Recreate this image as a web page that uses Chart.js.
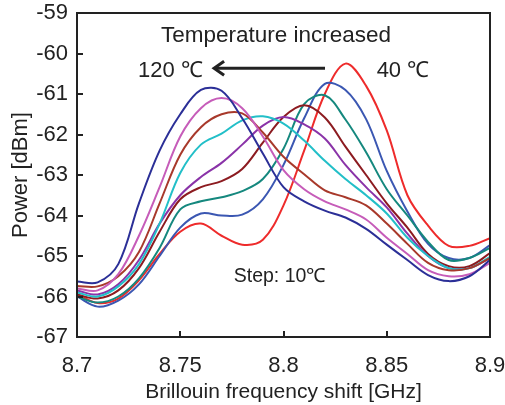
<!DOCTYPE html>
<html>
<head>
<meta charset="utf-8">
<script src="https://cdn.jsdelivr.net/npm/chart.js@4.4.1/dist/chart.umd.min.js"></script>
<style>
html,body{margin:0;padding:0;background:#ffffff;}
canvas{display:block;}
</style>
</head>
<body>
<canvas id="c" width="505" height="405"></canvas>
<script>
// Brillouin frequency shift [GHz]
const freqs = [8.70, 8.71, 8.72, 8.73, 8.74, 8.75, 8.76, 8.77, 8.78, 8.79, 8.80,
               8.81, 8.82, 8.83, 8.84, 8.85, 8.86, 8.87, 8.88, 8.89, 8.90];

// Power [dBm] for each temperature
const p120 = [-65.63, -65.65, -65.2, -63.7, -62.4, -61.5, -60.9, -60.92, -61.6, -62.47, -63.3,
              -63.65, -63.88, -64.05, -64.33, -64.72, -65.1, -65.47, -65.62, -65.5, -65.1];
const p110 = [-65.8, -65.85, -65.45, -64.5, -63.3, -62.05, -61.35, -61.1, -61.35, -62.05, -62.88,
              -63.35, -63.65, -63.85, -64.1, -64.55, -64.95, -65.35, -65.5, -65.45, -65.17];
const p100 = [-65.74, -65.75, -65.5, -64.9, -63.7, -62.5, -61.82, -61.5, -61.48, -61.95, -62.55,
              -62.98, -63.38, -63.55, -63.75, -64.2, -64.7, -65.17, -65.35, -65.3, -65.05];
const p90  = [-65.9, -66.0, -65.75, -65.2, -64.2, -62.95, -62.25, -61.98, -61.65, -61.55, -61.73,
              -62.15, -62.65, -63.1, -63.5, -63.95, -64.55, -65.0, -65.3, -65.3, -65.02];
const p80  = [-65.85, -65.95, -65.7, -65.1, -64.2, -63.5, -63.05, -62.7, -62.25, -61.78, -61.57,
              -61.75, -62.1, -62.75, -63.3, -63.8, -64.45, -65.0, -65.3, -65.3, -65.05];
const p70  = [-65.95, -66.05, -65.85, -65.3, -64.4, -63.6, -63.3, -63.15, -62.85, -62.2, -61.57,
              -61.28, -61.58, -62.3, -63.0, -63.7, -64.3, -64.95, -65.25, -65.25, -64.93];
const p60  = [-66.0, -66.15, -66.0, -65.55, -64.8, -63.85, -63.65, -63.55, -63.4, -63.1, -62.35,
              -61.25, -61.03, -61.63, -62.44, -63.35, -64.0, -64.65, -65.1, -65.05, -64.8];
const p50  = [-66.0, -66.25, -66.1, -65.7, -65.0, -64.3, -63.95, -64.0, -63.98, -63.6, -62.75,
              -61.6, -60.75, -60.9, -61.62, -62.9, -63.9, -64.7, -65.05, -65.05, -64.73];
const p40  = [-65.94, -66.16, -66.05, -65.6, -64.95, -64.4, -64.2, -64.5, -64.72, -64.6, -63.75,
              -62.4, -61.0, -60.25, -60.8, -61.9, -63.5, -64.25, -64.75, -64.75, -64.56];

const temps = ['120℃', '110℃', '100℃', '90℃', '80℃', '70℃', '60℃', '50℃', '40℃'];
const series = [p120, p110, p100, p90, p80, p70, p60, p50, p40];
const colors = ['#2b2f97', '#c65cb9', '#a8392b', '#22bfc8', '#8a33a8', '#8c1b20', '#15887e', '#3b57b2', '#ee2b2b'];

const xTicks = [8.7, 8.75, 8.8, 8.85, 8.9];
const yTicks = [-67, -66, -65, -64, -63, -62, -61, -60, -59];

const FONT = "'Liberation Sans', Arial, sans-serif";
const INK = '#222222';

const datasets = series.map((vals, i) => ({
  label: temps[i],
  data: freqs.map((f, j) => ({x: f, y: vals[j]})),
  borderColor: colors[i],
  backgroundColor: colors[i],
  borderWidth: 2,
  pointRadius: 0,
  tension: 0.35,
  fill: false
}));

const framePlugin = {
  id: 'frameAndNotes',
  afterDatasetsDraw(chart) {
    const {ctx, chartArea: a, scales: {x, y}} = chart;
    ctx.save();
    ctx.strokeStyle = INK;
    ctx.lineWidth = 2;
    ctx.strokeRect(a.left, a.top, a.right - a.left, a.bottom - a.top);
    // inward tick marks
    xTicks.forEach(v => {
      const px = Math.round(x.getPixelForValue(v));
      ctx.beginPath(); ctx.moveTo(px, a.bottom); ctx.lineTo(px, a.bottom - 6); ctx.stroke();
    });
    yTicks.forEach(v => {
      const py = Math.round(y.getPixelForValue(v));
      ctx.beginPath(); ctx.moveTo(a.left, py); ctx.lineTo(a.left + 6, py); ctx.stroke();
    });

    // annotations
    ctx.fillStyle = INK;
    ctx.textBaseline = 'alphabetic';
    ctx.font = "22.5px " + FONT;
    ctx.textAlign = 'center';
    ctx.fillText('Temperature increased', x.getPixelForValue(8.7964), y.getPixelForValue(-59.72));
    ctx.textAlign = 'left';
    ctx.font = "22px " + FONT;
    ctx.fillText('120 ℃', x.getPixelForValue(8.7295), y.getPixelForValue(-60.575));
    ctx.fillText('40 ℃', x.getPixelForValue(8.8451), y.getPixelForValue(-60.575));
    ctx.font = "19.5px " + FONT;
    ctx.fillText('Step: 10℃', x.getPixelForValue(8.7759), y.getPixelForValue(-65.63));

    // arrow
    const ax1 = x.getPixelForValue(8.8201), ax2 = x.getPixelForValue(8.7659);
    const ay = y.getPixelForValue(-60.365);
    ctx.lineWidth = 3;
    ctx.lineCap = 'butt';
    ctx.beginPath(); ctx.moveTo(ax1, ay); ctx.lineTo(ax2 + 2, ay); ctx.stroke();
    ctx.lineJoin = 'miter';
    ctx.beginPath();
    ctx.moveTo(ax2 + 11, ay - 7);
    ctx.lineTo(ax2 + 1, ay);
    ctx.lineTo(ax2 + 11, ay + 7);
    ctx.stroke();
    ctx.restore();
  }
};

new Chart(document.getElementById('c'), {
  type: 'line',
  data: {datasets},
  options: {
    responsive: false,
    animation: false,
    devicePixelRatio: 1,
    layout: {padding: {top: 13, right: 15, left: 0, bottom: 0}},
    plugins: {legend: {display: false}, tooltip: {enabled: false}},
    scales: {
      x: {
        type: 'linear', min: 8.7, max: 8.9,
        afterBuildTicks: s => { s.ticks = xTicks.map(v => ({value: v})); },
        afterFit: s => { s.height = 68; s.paddingLeft = 0; s.paddingRight = 0; },
        grid: {display: false, drawTicks: false},
        border: {display: false},
        ticks: {
          color: INK, font: {family: FONT, size: 22}, padding: 16, maxRotation: 0,
          callback: v => String(v)
        },
        title: {display: true, text: 'Brillouin frequency shift [GHz]', color: INK,
                font: {family: FONT, size: 21}, padding: {top: 0, bottom: 0}}
      },
      y: {
        type: 'linear', min: -67, max: -59,
        afterBuildTicks: s => { s.ticks = yTicks.map(v => ({value: v})); },
        afterFit: s => { s.width = 77; s.paddingTop = 0; s.paddingBottom = 0; },
        grid: {display: false, drawTicks: false},
        border: {display: false},
        ticks: {
          color: INK, font: {family: FONT, size: 22}, padding: 9,
          callback: v => String(v)
        },
        title: {display: true, text: 'Power [dBm]', color: INK,
                font: {family: FONT, size: 22}, padding: {top: 8, bottom: 8}}
      }
    }
  },
  plugins: [framePlugin]
});
</script>
</body>
</html>
